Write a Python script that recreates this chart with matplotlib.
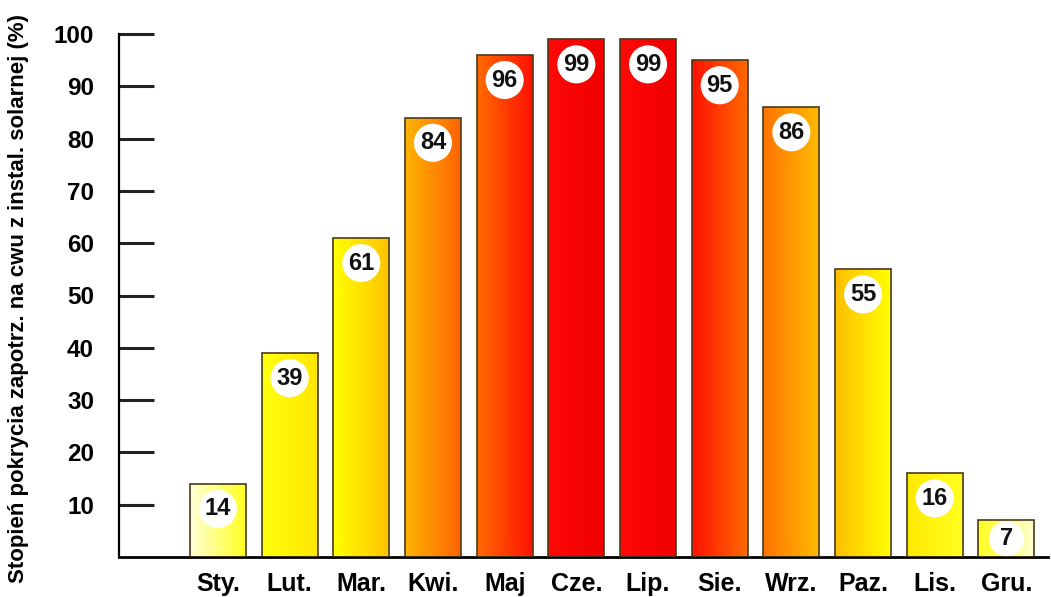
import numpy as np
import matplotlib
matplotlib.use("Agg")
import matplotlib.pyplot as plt
from matplotlib.colors import LinearSegmentedColormap

plt.rcParams['font.family'] = ['Liberation Sans', 'DejaVu Sans']

months = ['Sty.', 'Lut.', 'Mar.', 'Kwi.', 'Maj', 'Cze.', 'Lip.', 'Sie.', 'Wrz.', 'Paz.', 'Lis.', 'Gru.']
values = [14, 39, 61, 84, 96, 99, 99, 95, 86, 55, 16, 7]
yticks = [10, 20, 30, 40, 50, 60, 70, 80, 90, 100]
ylabel = 'Stopień pokrycia zapotrz. na cwu z instal. solarnej (%)'

# left / right colour of each bar's gradient
grad = [('#ffffd8', '#ffff20'), ('#ffff10', '#ffe600'), ('#ffff00', '#ffc400'),
        ('#ffb400', '#ff6400'), ('#ff6a00', '#ff1200'), ('#ff0808', '#f00000'),
        ('#ff0808', '#f00000'), ('#ff1200', '#ff6a00'), ('#ff7400', '#ffba00'),
        ('#ffbe00', '#ffff00'), ('#ffea00', '#ffff20'), ('#ffff20', '#ffffd0')]

fig = plt.figure(figsize=(10.51, 5.97), dpi=100)
ax = fig.add_axes([119/1051, 1-557/597, (1048-119)/1051, (557-34)/597])

x = np.arange(len(months))
w = 0.78
bars = ax.bar(x, values, width=w, facecolor='none', edgecolor='#4a3a1a', linewidth=1.2, zorder=3)

g = np.linspace(0, 1, 64).reshape(1, -1)
for b, (c1, c2) in zip(bars, grad):
    cm = LinearSegmentedColormap.from_list('g', [c1, c2])
    im = ax.imshow(g, cmap=cm, aspect='auto', zorder=2,
                   extent=[b.get_x(), b.get_x() + b.get_width(), 0, b.get_height()])
    im.set_clip_path(b)

for xi, v in zip(x, values):
    yc = max(v - 4.8, v / 2)
    ax.text(xi, yc, str(v), ha='center', va='center', fontsize=17, fontweight='bold',
            color='#111111', zorder=5,
            bbox=dict(boxstyle='circle,pad=0.25', fc='white', ec='none'))

ax.set_xlim(-1.38, 11.58)
ax.set_ylim(0, 100)
ax.set_yticks(yticks)
ax.set_yticklabels([str(t) for t in yticks], fontsize=17.5, fontweight='bold')
ax.set_xticks(x)
ax.set_xticklabels(months, fontsize=18, fontweight='bold')
ax.tick_params(axis='y', direction='in', length=25, width=2.2, pad=18, color='#222222')
ax.tick_params(axis='x', length=0, pad=11)
ax.spines['top'].set_visible(False)
ax.spines['right'].set_visible(False)
ax.spines['left'].set_linewidth(1.6)
ax.spines['bottom'].set_linewidth(2)
ax.set_ylabel(ylabel, fontsize=16, fontweight='bold')
ax.yaxis.set_label_coords(-0.097, 0.495)

fig.savefig('out.png', dpi=100)
